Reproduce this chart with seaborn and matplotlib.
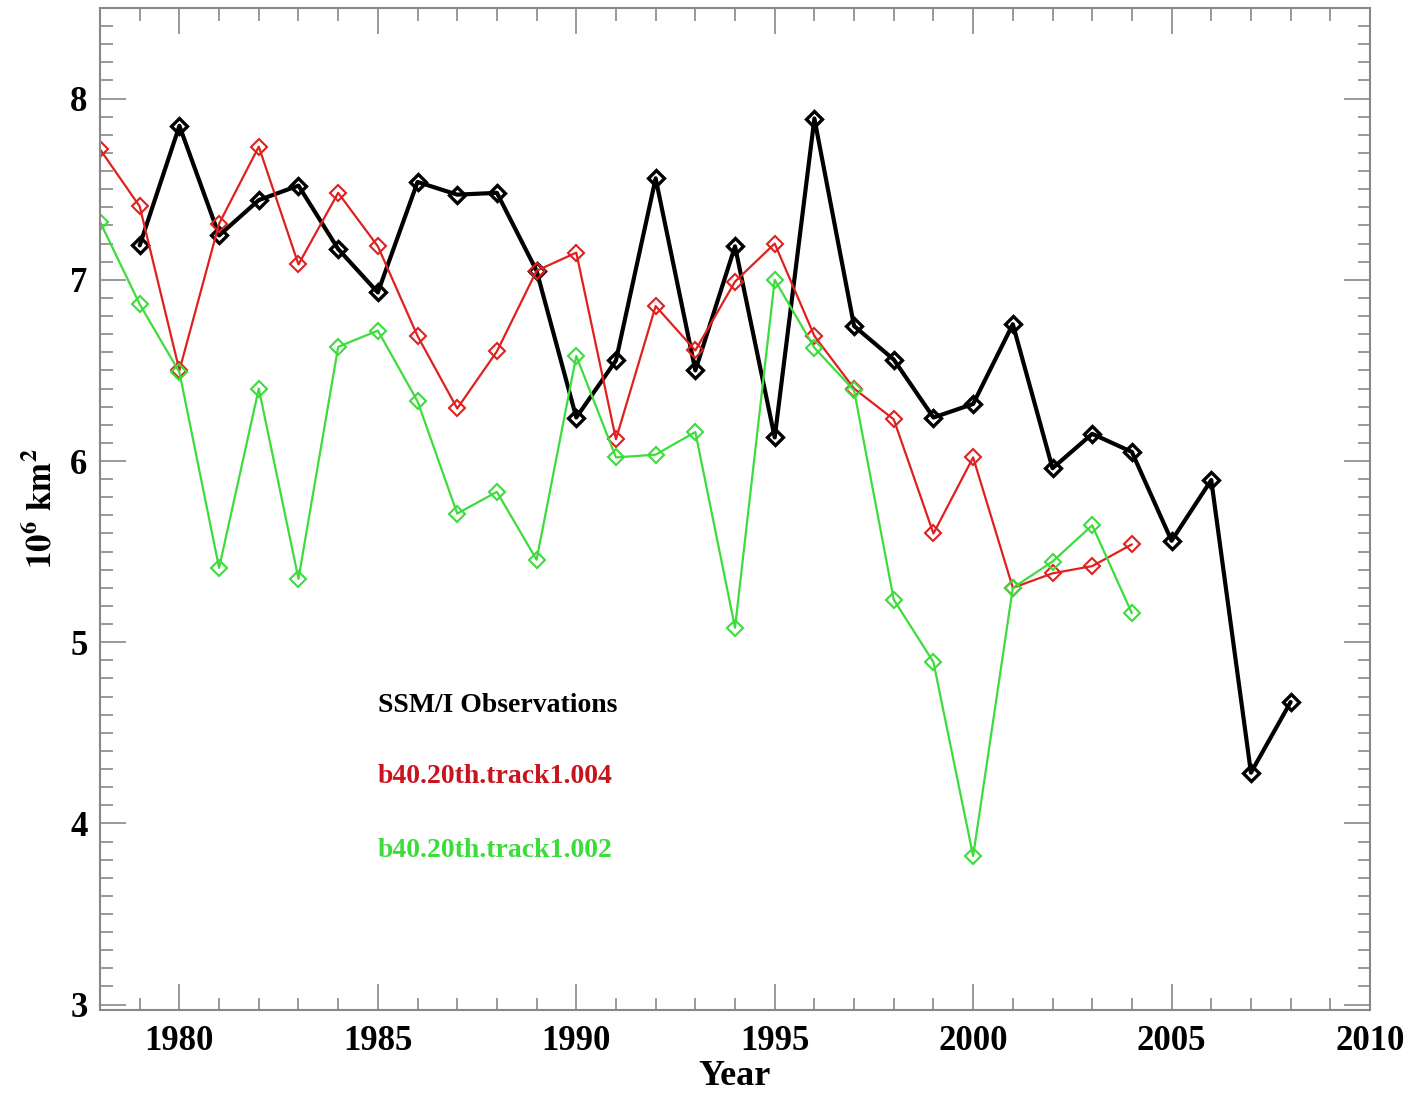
import numpy as np
import pandas as pd
import seaborn as sns
import matplotlib.pyplot as plt
from matplotlib.ticker import MultipleLocator

# Sea ice extent (10^6 km^2)
obs_years = list(range(1979, 2009))
obs_vals = [7.19, 7.85, 7.245, 7.44, 7.52, 7.17, 6.93, 7.54, 7.47, 7.48,
            7.05, 6.24, 6.555, 7.56, 6.50, 7.185, 6.13, 7.89, 6.745, 6.56,
            6.24, 6.315, 6.755, 5.96, 6.15, 6.05, 5.56, 5.895, 4.28, 4.67]

model_years = list(range(1978, 2005))
run004_vals = [7.72, 7.405, 6.50, 7.31, 7.735, 7.085, 7.48, 7.185, 6.69, 6.29,
               6.605, 7.05, 7.15, 6.12, 6.855, 6.61, 6.99, 7.20, 6.69, 6.40,
               6.23, 5.60, 6.02, 5.30, 5.38, 5.42, 5.54]
run002_vals = [7.32, 6.865, 6.49, 5.41, 6.40, 5.35, 6.63, 6.72, 6.33, 5.71,
               5.83, 5.455, 6.58, 6.02, 6.035, 6.16, 5.08, 7.00, 6.625, 6.39,
               5.235, 4.89, 3.82, 5.30, 5.445, 5.645, 5.16]

labels = ["SSM/I Observations", "b40.20th.track1.004", "b40.20th.track1.002"]
label_y = [4.65, 4.26, 3.85]

RED = "#e0201e"
GREEN = "#3ddc3d"

sns.set_theme(style="ticks")
plt.rcParams["font.family"] = ["Liberation Serif", "DejaVu Serif"]
plt.rcParams["font.weight"] = "bold"
plt.rcParams["mathtext.fontset"] = "stix"
plt.rcParams["text.color"] = "black"
plt.rcParams["axes.labelcolor"] = "black"
plt.rcParams["xtick.labelcolor"] = "black"
plt.rcParams["ytick.labelcolor"] = "black"

fig = plt.figure(figsize=(14.15, 10.98), dpi=100)
ax = fig.add_axes([0.0707, 0.0801, 0.8975, 0.9126])

sns.lineplot(x=obs_years, y=obs_vals, ax=ax, color="black", lw=3.0,
             marker="D", markersize=8.5, markerfacecolor="none",
             markeredgecolor="black", markeredgewidth=2.4,
             estimator=None, sort=False)
sns.lineplot(x=model_years, y=run004_vals, ax=ax, color=RED, lw=1.6,
             marker="D", markersize=8.5, markerfacecolor="none",
             markeredgecolor=RED, markeredgewidth=1.5,
             estimator=None, sort=False)
sns.lineplot(x=model_years, y=run002_vals, ax=ax, color=GREEN, lw=1.6,
             marker="D", markersize=8.5, markerfacecolor="none",
             markeredgecolor=GREEN, markeredgewidth=1.5,
             estimator=None, sort=False)

for txt, yy, col in zip(labels, label_y, ["black", "#c8141e", GREEN]):
    ax.text(1985.0, yy, txt, color=col, fontsize=20, fontweight="bold",
            va="center", ha="left")

ax.set_xlim(1978, 2010)
ax.set_ylim(2.97, 8.5)
ax.xaxis.set_major_locator(MultipleLocator(5))
ax.xaxis.set_minor_locator(MultipleLocator(1))
ax.yaxis.set_major_locator(MultipleLocator(1))
ax.yaxis.set_minor_locator(MultipleLocator(0.1))

for s in ax.spines.values():
    s.set_visible(True)
    s.set_color("#888888")
    s.set_linewidth(1.5)
ax.tick_params(which="both", direction="in", top=True, right=True,
               color="#888888", width=1.2, labelsize=25)
ax.tick_params(which="major", length=19)
ax.tick_params(which="minor", length=9)
ax.tick_params(axis="x", pad=11)
ax.tick_params(axis="y", pad=9)

ax.set_xlabel("Year", fontsize=26, fontweight="bold", labelpad=1)
ax.set_ylabel(r"$\mathbf{10^6\ km^2}$", fontsize=25, labelpad=8)

fig.savefig("out.png", dpi=100)
